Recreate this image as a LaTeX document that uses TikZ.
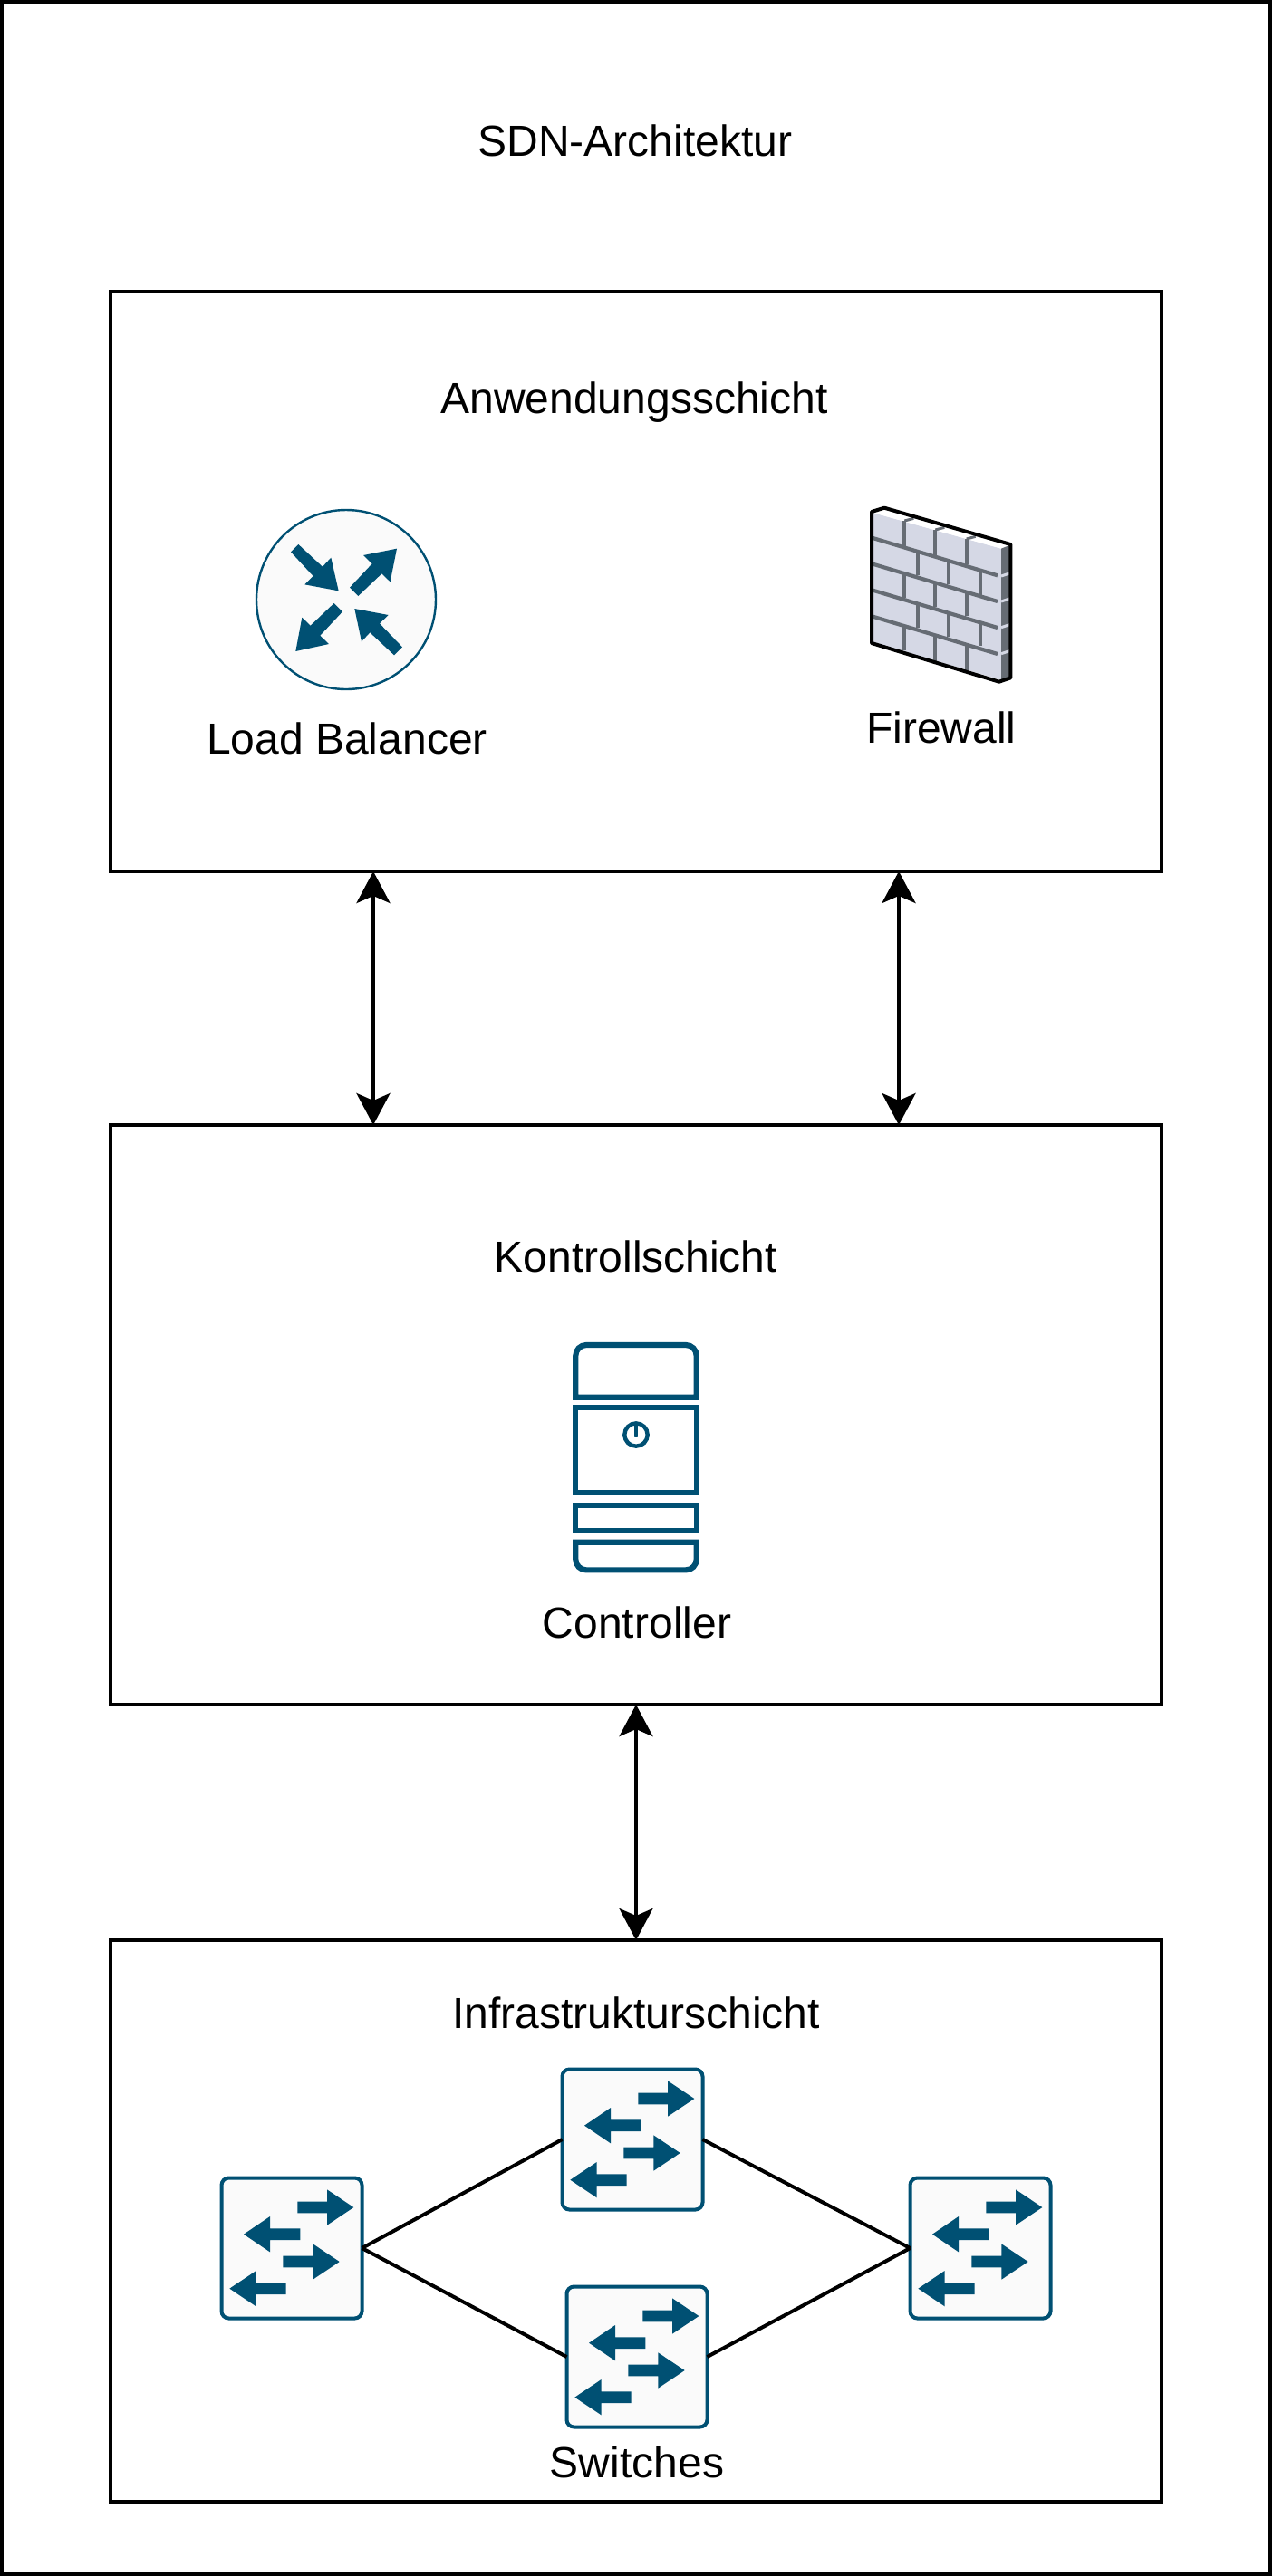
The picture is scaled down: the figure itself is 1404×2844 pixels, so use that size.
\documentclass[tikz,border=0pt]{standalone}
\usepackage{fontspec}
\setmainfont{Liberation Sans}
\usepackage{xcolor}
\usetikzlibrary{calc, arrows.meta}
\definecolor{icon}{HTML}{005073}
\definecolor{iconbg}{HTML}{FAFAFA}
\definecolor{wallface}{HTML}{D5D8E5}
\definecolor{wallgap}{HTML}{666C74}
\tikzset{
    % zoom coordinates of the icons: three units to a pixel
    icon grid/.style={x=0.16667pt, y=-0.16667pt},
    lb arrows/.pic={
        \begin{scope}[icon grid, shift={(-425,-425)}]
            \fill[icon] (242,267) -- (267,242) -- (347,316) -- (375,286) -- (400,396) -- (288,375) -- (316,347) -- cycle;
            \fill[icon] (437,385) -- (465,413) -- (543,339) -- (571,366) -- (593,256) -- (482,278) -- (511,306) -- cycle;
            \fill[icon] (413,465) -- (385,437) -- (307,511) -- (279,484) -- (258,596) -- (368,572) -- (339,544) -- cycle;
            \fill[icon] (611,582) -- (584,609) -- (504,534) -- (476,564) -- (453,455) -- (565,476) -- (536,504) -- cycle;
        \end{scope}
    },
    switch arrows/.pic={
        \begin{scope}[icon grid, shift={(-294,-306)}]
            \foreach \tx/\bx/\px/\my in {313/411/499/171, 265/364/452/351} {
                \fill[icon] (\tx,\my-19) -- (\bx,\my-19) -- (\bx,\my-59) -- (\px,\my) -- (\bx,\my+59) -- (\bx,\my+19) -- (\tx,\my+19) -- cycle;
            }
            \foreach \tx/\bx/\px/\my in {322/222/135/260, 275/176/88/440} {
                \fill[icon] (\tx,\my-19) -- (\bx,\my-19) -- (\bx,\my-59) -- (\px,\my) -- (\bx,\my+59) -- (\bx,\my+19) -- (\tx,\my+19) -- cycle;
            }
        \end{scope}
    },
    wall/.pic={
        \begin{scope}[icon grid]
            \fill[wallface] (100,78) -- (525,197) -- (525,632) -- (100,508) -- cycle;
            \fill[white] (100,78) -- (138,67) -- (555,185) -- (525,197) -- cycle;
            \fill[wallgap] (525,197) -- (555,185) -- (555,622) -- (525,632) -- cycle;
            \foreach \y in {162,248,335,422} {
                \draw[wallgap, line width=2.1pt] (100,\y) -- (513,\y+124);
            }
            \foreach \y in {288,372,458,545} {
                \draw[wallface, line width=1.5pt] (525,\y) -- (555,\y-10);
            }
            \foreach \x/\a/\b in {205/105/190, 307/135/220, 410/165/250,
                    249/205/285, 352/240/315, 455/272/350,
                    205/285/360, 307/315/390, 410/345/420,
                    248/380/460, 352/410/490, 455/445/520,
                    205/455/535, 307/490/570, 410/520/600} {
                \draw[wallgap, line width=2.1pt] (\x,\a) -- (\x,\b);
            }
            \draw[wallgap, line width=1.5pt] (205,105) -- (235,97);
            \draw[wallgap, line width=1.5pt] (307,135) -- (337,127);
            \draw[wallgap, line width=1.5pt] (410,165) -- (440,157);
            \draw[black, line width=2pt, line join=round] (96,75) -- (138,62) -- (556,183) -- (556,625) -- (518,638) -- (96,510) -- cycle;
        \end{scope}
    },
    server/.pic={
        \begin{scope}[icon grid, icon, line width=3.1pt]
            \draw (76,248) -- (76,110) arc[start angle=180, end angle=270, radius=35] -- (441,75) arc[start angle=270, end angle=360, radius=35] -- (476,248) -- cycle;
            \draw (76,283) rectangle (476,565);
            \draw (76,605) rectangle (476,689);
            \draw (76,728) -- (476,728) -- (476,785) arc[start angle=0, end angle=90, radius=35] -- (111,820) arc[start angle=90, end angle=180, radius=35] -- cycle;
            \draw[line width=2.2pt] (276,372) circle[radius=38];
            \draw[line width=2.2pt, line cap=round] (276,338) -- (276,374);
        \end{scope}
    }
}

\begin{document}
\begin{tikzpicture}[
        x=0.5pt, y=-0.5pt,
        line width=2pt,
        layer/.style={draw, minimum width=580pt, outer sep=0pt, inner sep=0pt},
        label/.style={font=\fontsize{24}{28}\selectfont, inner sep=0pt},
        sync/.style={{Stealth[length=17.5pt, width=18.5pt, inset=4pt]}-{Stealth[length=17.5pt, width=18.5pt, inset=4pt]}},
        lbnode/.style={circle, draw=icon, fill=iconbg, line width=1.2pt, minimum size=99pt, inner sep=0pt, outer sep=0pt},
        switch/.style={draw=icon, fill=iconbg, line width=2pt, rounded corners=4pt, minimum size=77.5pt, inner sep=0pt, outer sep=0pt}
    ]
    \useasboundingbox (0,0) rectangle (1404,2844);
    \draw (2,2) rectangle (1402,2842);

    \node[label] (title) at (701,155) {SDN-Architektur};

    \node[layer, minimum height=320pt] (app) at (702,642) {};
    \node[layer, minimum height=320pt] (ctl) at (702,1562) {};
    \node[layer, minimum height=310pt] (infra) at (702,2452) {};

    \node[label] (applabel) at (700,444) {Anwendungsschicht};
    \node[label] (ctllabel) at (702,1387) {Kontrollschicht};
    \node[label] (infralabel) at (702,2222) {Infrastrukturschicht};

    \node[lbnode] (lb) at (382,662) {};
    \pic at (lb) {lb arrows};
    \node[label] (lblabel) at (383,815) {Load Balancer};

    \pic at (930,540) {wall};
    \node[label] (fwlabel) at (1039,803) {Firewall};

    \pic at (610,1460) {server};
    \node[label] (srvlabel) at (703,1791) {Controller};

    \node[switch] (s1) at (322,2482) {};
    \node[switch] (s2) at (698,2362) {};
    \node[switch] (s3) at (703,2602) {};
    \node[switch] (s4) at (1082,2482) {};
    \foreach \s in {s1,s2,s3,s4} {
        \pic at (\s) {switch arrows};
    }
    \node[label] (swlabel) at (703,2718) {Switches};

    \draw (s1.east) -- (s2.west);
    \draw (s1.east) -- (s3.west);
    \draw (s2.east) -- (s4.west);
    \draw (s3.east) -- (s4.west);

    \coordinate (a1) at ($(app.south west)!0.25!(app.south east)$);
    \coordinate (a2) at ($(app.south west)!0.75!(app.south east)$);
    \coordinate (c1) at ($(ctl.north west)!0.25!(ctl.north east)$);
    \coordinate (c2) at ($(ctl.north west)!0.75!(ctl.north east)$);
    \draw[sync] (a1) -- (c1);
    \draw[sync] (a2) -- (c2);
    \draw[sync] (ctl.south) -- (infra.north);
\end{tikzpicture}
\end{document}
